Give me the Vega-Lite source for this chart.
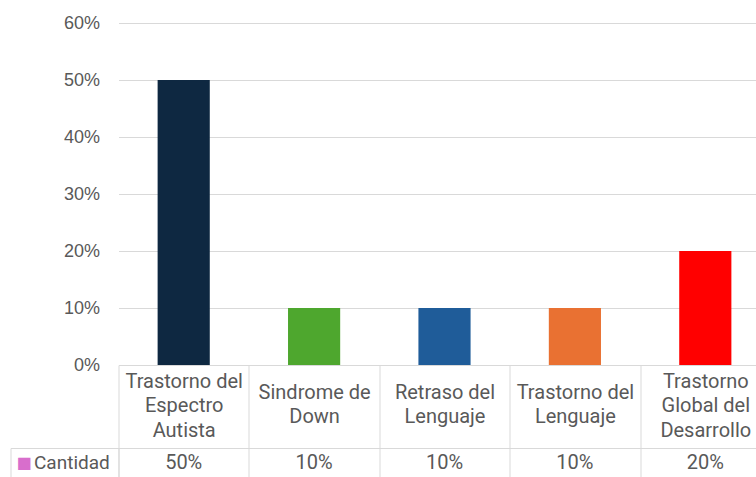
{
  "$schema": "https://vega.github.io/schema/vega-lite/v6.json",
  "padding": {"left": 9.5, "top": 14, "right": -15, "bottom": 0},
  "background": "#ffffff",
  "spacing": 83,
  "bounds": "flush",
  "config": {"view": {"stroke": null}},
  "data": {
    "values": [
      {"cat": "Trastorno del Espectro Autista", "v": 0.5, "serie": "Cantidad"},
      {"cat": "Sindrome de Down", "v": 0.1, "serie": "Cantidad"},
      {"cat": "Retraso del Lenguaje", "v": 0.1, "serie": "Cantidad"},
      {"cat": "Trastorno del Lenguaje", "v": 0.1, "serie": "Cantidad"},
      {"cat": "Trastorno Global del Desarrollo", "v": 0.2, "serie": "Cantidad"}
    ]
  },
  "resolve": {"scale": {"x": "independent", "y": "independent", "color": "independent"}},
  "vconcat": [
    {
      "width": 652,
      "height": 342,
      "mark": {"type": "bar", "width": {"band": 0.4}},
      "encoding": {
        "x": {
          "field": "cat", "type": "nominal", "sort": null,
          "scale": {"type": "band", "paddingInner": 0, "paddingOuter": 0},
          "axis": {
            "title": null,
            "domain": true, "domainColor": "#d9d9d9", "domainWidth": 1,
            "ticks": true, "tickBand": "extent", "tickSize": 83, "tickColor": "#d9d9d9", "tickWidth": 1,
            "labelAngle": 0,
            "labelExpr": "{'Trastorno del Espectro Autista': ['Trastorno del','Espectro','Autista'], 'Sindrome de Down': ['Sindrome de','Down'], 'Retraso del Lenguaje': ['Retraso del','Lenguaje'], 'Trastorno del Lenguaje': ['Trastorno del','Lenguaje'], 'Trastorno Global del Desarrollo': ['Trastorno','Global del','Desarrollo']}[datum.label]",
            "labelBaseline": "middle",
            "labelLineHeight": 24.5,
            "labelPadding": {
              "condition": {"test": "indexof(['Sindrome de Down','Retraso del Lenguaje','Trastorno del Lenguaje'], datum.value) >= 0", "value": -56},
              "value": -67
            },
            "labelFont": "Roboto, sans-serif",
            "labelFontSize": 20,
            "labelColor": "#595959",
            "labelOverlap": false,
            "labelBound": false,
            "labelFlush": false,
            "labelLimit": 0
          }
        },
        "y": {
          "field": "v", "type": "quantitative",
          "scale": {"domain": [0, 0.6]},
          "axis": {
            "title": null,
            "values": [0, 0.1, 0.2, 0.3, 0.4, 0.5, 0.6],
            "format": ".0%",
            "domain": false, "ticks": false,
            "grid": true, "gridColor": "#d9d9d9", "gridWidth": 1,
            "labelFont": "Liberation Sans, Arial, sans-serif",
            "labelFontSize": 18,
            "labelColor": "#595959",
            "labelPadding": 19
          }
        },
        "color": {
          "field": "cat", "type": "nominal", "sort": null,
          "scale": {"range": ["#0E2841", "#4EA72E", "#1F5C99", "#E97132", "#FF0000"]},
          "legend": null
        }
      }
    },
    {
      "width": 652,
      "height": 29,
      "resolve": {"axis": {"y": "independent"}},
      "encoding": {
        "x": {
          "field": "cat", "type": "nominal", "sort": null,
          "scale": {"type": "band", "paddingInner": 0, "paddingOuter": 0},
          "axis": {
            "title": null, "labels": false, "ticks": false, "domain": false,
            "grid": true, "tickBand": "extent", "gridColor": "#d9d9d9", "gridWidth": 1
          }
        }
      },
      "layer": [
        {
          "mark": {
            "type": "text",
            "font": "Roboto, sans-serif",
            "fontSize": 20,
            "color": "#595959",
            "baseline": "middle",
            "align": "center"
          },
          "encoding": {
            "y": {
              "field": "serie", "type": "nominal",
              "scale": {"type": "band", "paddingInner": 0, "paddingOuter": 0},
              "axis": {
                "title": "■",
                "titleColor": "#D86ECC",
                "titleFont": "DejaVu Sans",
                "titleFontSize": 16,
                "titleFontWeight": "normal",
                "titleAngle": 0,
                "titleAlign": "center",
                "titleBaseline": "middle",
                "titleX": -95,
                "titleY": 14.5,
                "domain": true, "domainColor": "#d9d9d9",
                "ticks": true, "tickBand": "extent", "tickSize": 108, "tickColor": "#d9d9d9",
                "grid": true, "gridColor": "#d9d9d9",
                "labelAlign": "left",
                "labelBaseline": "middle",
                "labelPadding": -23,
                "labelFont": "Roboto, sans-serif",
                "labelFontSize": 19,
                "labelColor": "#595959"
              }
            },
            "text": {"field": "v", "type": "quantitative", "format": ".0%"}
          }
        },
        {
          "mark": {"type": "text", "text": ""},
          "encoding": {
            "y": {
              "field": "serie", "type": "nominal",
              "axis": {
                "orient": "left", "offset": 108,
                "title": null, "labels": false, "ticks": false, "grid": false,
                "domain": true, "domainColor": "#d9d9d9"
              }
            }
          }
        }
      ]
    }
  ]
}
